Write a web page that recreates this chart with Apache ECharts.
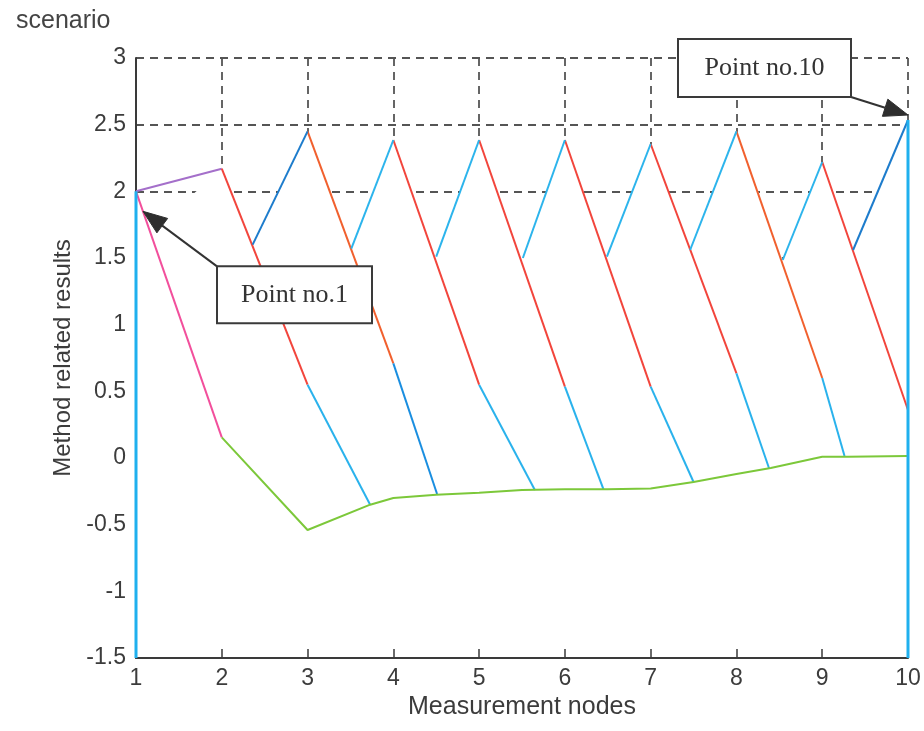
<!DOCTYPE html>
<html>
<head>
<meta charset="utf-8">
<title>Method related results</title>
<script src="https://cdn.jsdelivr.net/npm/echarts@6/dist/echarts.min.js"></script>
<style>
  html, body { margin: 0; padding: 0; background: #ffffff; }
  #chart { width: 924px; height: 731px; }
</style>
</head>
<body>
<div id="chart"></div>
<script>
// Measurement nodes on the x axis (also the tick labels)
const nodes = [1, 2, 3, 4, 5, 6, 7, 8, 9, 10];
const yRange = [-1.5, 3];

// Value reached at each node by the zig-zag (node 1 = Point no.1, node 10 = Point no.10)
const peakValues = [2.00, 2.17, 2.45, 2.385, 2.385, 2.385, 2.355, 2.45, 2.22, 2.535];

// Value at the next node where each descending stroke changes colour
const descentBreaks = [0.155, 0.55, 0.71, 0.55, 0.535, 0.535, 0.635, 0.60, 0.36];

// Where the lower part of descending strokes 2..8 meets the baseline curve
const footNodes  = [3.73, 4.51, 5.65, 6.45, 7.50, 8.38, 9.26];
const footValues = [-0.35, -0.27, -0.24, -0.235, -0.18, -0.077, 0.015];

// Start of each rising stroke (on the previous descending stroke)
const valleyNodes  = [2.36, 3.51, 4.50, 5.51, 6.49, 7.46, 8.54, 9.36];
const valleyValues = [1.60, 1.57, 1.51, 1.50, 1.51, 1.56, 1.485, 1.56];

// Baseline curve
const baselineNodes  = [2, 3, 3.73, 4, 4.5, 5, 5.5, 6, 6.5, 7, 7.5, 8, 8.4, 9, 9.3, 10];
const baselineValues = [0.155, -0.54, -0.35, -0.30, -0.275, -0.26, -0.24, -0.235, -0.235, -0.228, -0.18, -0.12, -0.075, 0.01, 0.01, 0.015];

// Left edge of the shaded region that hides the grid under the zig-zag
const shadeStart = [1, 1.6];

// Stroke colours
const descendColors = ['#f2453c', '#f1602e', '#f2453c', '#f2453c', '#f2453c', '#f2453c', '#f1602e', '#f2453c'];
const lowerColors   = ['#2ab2ec', '#1a8ee0', '#2ab2ec', '#2ab2ec', '#2ab2ec', '#2ab2ec', '#2ab2ec'];
const risingColors  = ['#1d7ccc', '#2cb4ec', '#2cb4ec', '#2cb4ec', '#2cb4ec', '#2cb4ec', '#2cb4ec', '#1d7ccc'];

const chart = echarts.init(document.getElementById('chart'));

function segment(points, color, z, width) {
  return {
    type: 'line',
    data: points,
    xAxisIndex: 0,
    yAxisIndex: 0,
    showSymbol: false,
    symbol: 'none',
    silent: true,
    animation: false,
    z: z || 4,
    lineStyle: { color: color, width: width || 2 }
  };
}

const series = [];

// White shading under the zig-zag so the dashed grid only shows above it
const shade = [shadeStart.slice()];
shade.push([nodes[1], peakValues[1]]);
for (let j = 0; j < valleyNodes.length; j++) {
  shade.push([valleyNodes[j], valleyValues[j]]);
  shade.push([nodes[j + 2], peakValues[j + 2]]);
}
series.push({
  type: 'line',
  data: shade,
  xAxisIndex: 0,
  yAxisIndex: 0,
  symbol: 'none',
  silent: true,
  animation: false,
  z: 2,
  lineStyle: { width: 0, opacity: 0 },
  areaStyle: { color: '#ffffff', opacity: 1, origin: 'start' }
});

// First node: stroke down to node 2 and stroke up to node 2
series.push(segment([[nodes[0], peakValues[0]], [nodes[1], descentBreaks[0]]], '#f24f9c'));
series.push(segment([[nodes[0], peakValues[0]], [nodes[1], peakValues[1]]], '#a46fca'));

// Descending strokes from nodes 2..9
for (let k = 1; k < nodes.length - 1; k++) {
  series.push(segment([[nodes[k], peakValues[k]], [nodes[k + 1], descentBreaks[k]]], descendColors[k - 1]));
  if (k - 1 < footNodes.length) {
    series.push(segment([[nodes[k + 1], descentBreaks[k]], [footNodes[k - 1], footValues[k - 1]]], lowerColors[k - 1]));
  }
}

// Rising strokes up to nodes 3..10
for (let j = 0; j < valleyNodes.length; j++) {
  series.push(segment([[valleyNodes[j], valleyValues[j]], [nodes[j + 2], peakValues[j + 2]]], risingColors[j]));
}

// Baseline curve
series.push(segment(baselineNodes.map((x, i) => [x, baselineValues[i]]), '#7cc83a'));

// Vertical strokes at the first and last node
series.push(segment([[nodes[0], yRange[0]], [nodes[0], peakValues[0]]], '#1fb0ee', 6, 3));
series.push(segment([[nodes[9], yRange[0]], [nodes[9], peakValues[9]]], '#1fb0ee', 6, 3));

const sans = 'Liberation Sans, Arial, sans-serif';
const labelFont = { fontFamily: sans, fontSize: 23, color: '#3c3c3c' };
const gridDash = { color: '#555555', width: 1.8, type: [8, 6] };

chart.setOption({
  animation: false,
  backgroundColor: '#ffffff',
  title: {
    text: 'scenario',
    left: 11,
    top: 4,
    textStyle: { fontFamily: sans, fontSize: 25, fontWeight: 'normal', color: '#444444' }
  },
  grid: { left: 136, right: 16, top: 58, bottom: 73, containLabel: false },
  xAxis: [
    {
      type: 'value', min: nodes[0], max: nodes[nodes.length - 1], interval: 1, z: 3,
      name: 'Measurement nodes', nameLocation: 'middle', nameGap: 37,
      nameTextStyle: { fontFamily: sans, fontSize: 25, color: '#3c3c3c' },
      axisLine: { show: true, onZero: false, lineStyle: { color: '#3a3a3a', width: 2 } },
      axisTick: { show: true, inside: true, length: 9, lineStyle: { color: '#3a3a3a', width: 1.5 } },
      axisLabel: Object.assign({ margin: 9, formatter: v => String(v) }, labelFont),
      splitLine: { show: false }
    },
    {
      type: 'value', min: nodes[0], max: nodes[nodes.length - 1], interval: 1, z: 0,
      position: 'bottom',
      axisLine: { show: false }, axisTick: { show: false }, axisLabel: { show: false },
      splitLine: { show: true, lineStyle: gridDash }
    }
  ],
  yAxis: [
    {
      type: 'value', min: yRange[0], max: yRange[1], interval: 0.5, z: 3,
      name: 'Method related results', nameLocation: 'middle', nameGap: 56,
      nameTextStyle: { fontFamily: sans, fontSize: 24, color: '#3c3c3c' },
      axisLine: { show: true, onZero: false, lineStyle: { color: '#3a3a3a', width: 2 } },
      axisTick: { show: false },
      axisLabel: Object.assign({ margin: 10 }, labelFont),
      splitLine: { show: false }
    },
    {
      type: 'value', min: yRange[0], max: yRange[1], interval: 0.5, z: 0,
      position: 'left',
      axisLine: { show: false }, axisTick: { show: false }, axisLabel: { show: false },
      splitLine: { show: true, lineStyle: gridDash }
    }
  ],
  series: series
});

// Callout boxes with arrows pointing at the first and last node
function arrowHead(tip, from, len, half) {
  const dx = tip[0] - from[0], dy = tip[1] - from[1];
  const d = Math.sqrt(dx * dx + dy * dy);
  const ux = dx / d, uy = dy / d;
  const bx = tip[0] - ux * len, by = tip[1] - uy * len;
  return [tip, [bx - uy * half, by + ux * half], [bx + uy * half, by - ux * half]];
}

function callout(anchor, tipOffset, box, text, tailCorner) {
  const p = chart.convertToPixel({ xAxisIndex: 0, yAxisIndex: 0 }, anchor);
  const tip = [p[0] + tipOffset[0], p[1] + tipOffset[1]];
  const bx = p[0] + box[0], by = p[1] + box[1];
  const tail = tailCorner === 'topLeft' ? [bx, by] : [bx + box[2], by + box[3]];
  const head = arrowHead(tip, tail, 24, 9);
  const base = [(head[1][0] + head[2][0]) / 2, (head[1][1] + head[2][1]) / 2];
  return [
    { type: 'line', z: 100, shape: { x1: tail[0], y1: tail[1], x2: base[0], y2: base[1] },
      style: { stroke: '#333333', lineWidth: 2 } },
    { type: 'polygon', z: 101, shape: { points: head }, style: { fill: '#2e2e2e', stroke: '#2e2e2e', lineWidth: 1 } },
    { type: 'rect', z: 102, shape: { x: bx, y: by, width: box[2], height: box[3] },
      style: { fill: '#ffffff', stroke: '#3a3a3a', lineWidth: 2 } },
    { type: 'text', z: 103, x: bx + box[2] / 2, y: by + box[3] / 2,
      style: { text: text, fill: '#333333', font: '26px "Liberation Serif", "Times New Roman", serif',
               align: 'center', verticalAlign: 'middle' } }
  ];
}

chart.setOption({
  graphic: [].concat(
    callout([nodes[0], peakValues[0]], [7, 20], [81, 75, 155, 57], 'Point no.1', 'topLeft'),
    callout([nodes[9], peakValues[9]], [0, -5], [-230, -81, 173, 58], 'Point no.10', 'bottomRight')
  )
});
</script>
</body>
</html>
